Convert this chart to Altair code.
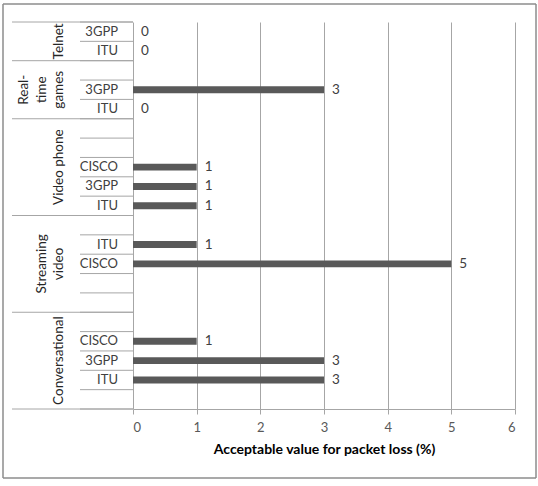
import altair as alt
import pandas as pd

# Rows listed from bottom to top (as in the reference, Excel-style)
row_group = (["Conversational"] * 5 + ["Streaming video"] * 5 + ["Video phone"] * 5
             + ["Real-time games"] * 3 + ["Telnet"] * 2)
row_label = ["", "ITU", "3GPP", "CISCO", "",
             "", "", "CISCO", "ITU", "",
             "ITU", "3GPP", "CISCO", "", "",
             "ITU", "3GPP", "",
             "ITU", "3GPP"]
row_value = [None, 3, 3, 1, None,
             None, None, 5, 1, None,
             1, 1, 1, None, None,
             0, 3, None,
             0, 0]

group_lines_text = [["Conversational"], ["Streaming", "video"], ["Video phone"],
                    ["Real-", "time", "games"], ["Telnet"]]
group_sizes = [5, 5, 5, 3, 2]

x_ticks = [0, 1, 2, 3, 4, 5, 6]
x_title = "Acceptable value for packet loss (%)"

FONT = "Lato"
LINE = "#a6a6a6"

rows = pd.DataFrame({"idx": list(range(len(row_label))), "group": row_group,
                     "label": row_label})
bars = pd.DataFrame({"idx": [i for i, v in enumerate(row_value) if v is not None],
                     "value": [v for v in row_value if v is not None]})

starts = []
s = 0
for n in group_sizes:
    starts.append(s)
    s += n

# one record per text line of each group label; k = lines after this one
glines = []
for st, n, lines in zip(starts, group_sizes, group_lines_text):
    for j, t in enumerate(lines):
        glines.append({"text": t, "mid": st + n / 2, "k": len(lines) - 1 - j})
glines = pd.DataFrame(glines)

group_bounds = pd.DataFrame({"b": starts + [s]})
row_bounds = pd.DataFrame({"b": list(range(s + 1))})

xscale = alt.Scale(domain=[0, 6], nice=False)
yscale = alt.Scale(domain=[0, s], nice=False, zero=False)


def xaxis():
    return alt.Axis(values=x_ticks, grid=True, gridColor=LINE, domainColor=LINE,
                    tickColor=LINE, tickSize=5, labelFont=FONT, labelFontSize=13,
                    labelColor="#595959", labelPadding=7, title=x_title,
                    titleFont=FONT, titleFontSize=14, titleFontWeight="bold",
                    titleColor="#000000", titlePadding=8)


def Y(field):
    return alt.Y(field, scale=yscale, axis=None)


bar_layer = alt.Chart(bars).transform_calculate(
    lo="datum.idx + 0.32", hi="datum.idx + 0.68"
).mark_bar(color="#595959").encode(
    x=alt.X("value:Q", scale=xscale, axis=xaxis()),
    x2=alt.datum(0),
    y=Y("lo:Q"),
    y2="hi:Q",
)

value_labels = alt.Chart(bars).transform_calculate(
    mid="datum.idx + 0.5"
).mark_text(align="left", baseline="middle", dx=8, font=FONT, fontSize=13.5,
            color="#404040").encode(
    x=alt.X("value:Q", scale=xscale, axis=xaxis()),
    y=Y("mid:Q"),
    text=alt.Text("value:Q", format="d"),
)

row_lines = alt.Chart(row_bounds).mark_rule(color=LINE, strokeWidth=1).encode(
    y=Y("b:Q"), x=alt.value(-53), x2=alt.value(0))

group_lines = alt.Chart(group_bounds).mark_rule(color=LINE, strokeWidth=1).encode(
    y=Y("b:Q"), x=alt.value(-121), x2=alt.value(0))

inner_labels = alt.Chart(rows).transform_calculate(
    mid="datum.idx + 0.5"
).mark_text(align="right", baseline="middle", font=FONT, fontSize=13,
            color="#404040").encode(
    x=alt.value(-15), y=Y("mid:Q"), text="label:N")

LH = 17.5
group_label_layers = []
for k in range(3):
    group_label_layers.append(
        alt.Chart(glines).transform_filter(f"datum.k == {k}").mark_text(
            align="center", baseline="bottom", angle=270, font=FONT, fontSize=13.5,
            color="#262626").encode(
            x=alt.value(-67 - k * LH), y=Y("mid:Q"), text="text:N")
    )

FR = "#8c8c8c"
one = pd.DataFrame({"k": [0]})
frame_top = alt.Chart(one).mark_rule(color=FR, strokeWidth=1.5).encode(
    x=alt.value(-130), x2=alt.value(403), y=alt.value(-18))
frame_bottom = alt.Chart(one).mark_rule(color=FR, strokeWidth=1.5).encode(
    x=alt.value(-130), x2=alt.value(403), y=alt.value(456))
frame_left = alt.Chart(one).mark_rule(color=FR, strokeWidth=1.5).encode(
    x=alt.value(-130), y=alt.value(-18), y2=alt.value(456))
frame_right = alt.Chart(one).mark_rule(color=FR, strokeWidth=1.5).encode(
    x=alt.value(403), y=alt.value(-18), y2=alt.value(456))

chart = alt.layer(
    row_lines, group_lines, bar_layer, value_labels, inner_labels,
    *group_label_layers,
    frame_top, frame_bottom, frame_left, frame_right
).properties(
    width=382, height=387,
    autosize=alt.AutoSizeParams(type="none"),
    padding={"left": 133, "top": 22, "right": 23, "bottom": 77},
    background="white",
).configure_view(strokeWidth=0)

chart.save("out.html", embed_options={"renderer": "svg", "actions": False})
